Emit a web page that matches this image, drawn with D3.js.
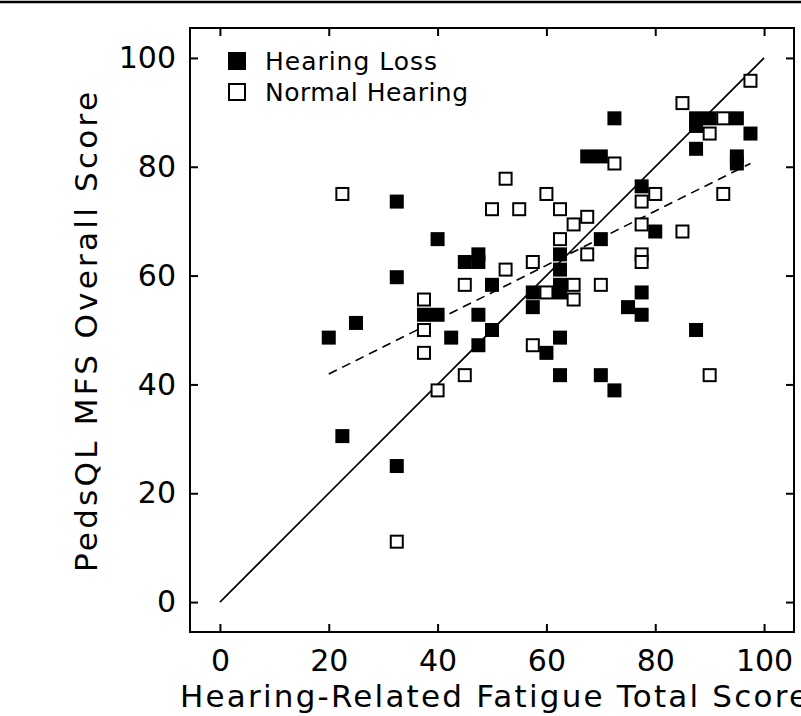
<!DOCTYPE html>
<html>
<head>
<meta charset="utf-8">
<script src="https://cdn.jsdelivr.net/npm/d3@7"></script>
<style>
  body { margin: 0; background: #fff; }
  svg text { font-family: "DejaVu Sans", sans-serif; fill: #000; }
</style>
</head>
<body>
<div id="chart"></div>
<script>
var width = 801, height = 716
var margin = {top: 28, right: 7, bottom: 84, left: 190}

// Hearing Loss group (filled squares)
var lossX = [20, 22.5, 25, 32.5, 32.5, 32.5, 37.5, 40, 40, 42.5, 45, 47.5, 47.5, 47.5, 47.5, 50, 50,
  57.5, 57.5, 60, 62.5, 62.5, 62.5, 62.5, 62.5, 62.5, 67.5, 70, 70, 70, 72.5, 72.5, 75,
  77.5, 77.5, 77.5, 80, 87.5, 87.5, 87.5, 87.5, 90, 95, 95, 95, 97.5]
var lossY = [48.6, 30.5, 51.3, 73.6, 59.7, 25, 52.8, 52.8, 66.7, 48.6, 62.5, 63.9, 62.5, 52.8, 47.2, 58.3, 50,
  56.9, 54.2, 45.8, 63.9, 61.1, 58.3, 56.9, 48.6, 41.7, 81.9, 81.9, 66.7, 41.7, 88.9, 38.9, 54.2,
  76.4, 56.9, 52.8, 68.1, 88.9, 87.5, 83.3, 50, 88.9, 88.9, 81.9, 80.6, 86.1]

// Normal Hearing group (open squares)
var normX = [22.5, 32.5, 37.5, 37.5, 37.5, 40, 45, 45, 50, 52.5, 52.5, 55, 57.5, 57.5, 60, 60,
  62.5, 62.5, 65, 65, 65, 67.5, 67.5, 70, 72.5, 77.5, 77.5, 77.5, 77.5, 80, 85, 85,
  90, 90, 92.5, 92.5, 97.5]
var normY = [75, 11.1, 55.6, 50, 45.8, 38.9, 58.3, 41.7, 72.2, 77.8, 61.1, 72.2, 62.5, 47.2, 75, 56.9,
  72.2, 66.7, 69.4, 58.3, 55.6, 70.8, 63.9, 58.3, 80.6, 73.6, 69.4, 63.9, 62.5, 75, 91.7, 68.1,
  86.1, 41.7, 88.9, 75, 95.8]

// identity line and regression line
var identX = [0, 100], identY = [0, 100]
var fitX = [20, 97.5], fitY = [41.9, 80.6]

var ticks = [0, 20, 40, 60, 80, 100]
var legendLabels = ['Hearing Loss', 'Normal Hearing']

var svg = d3.select('#chart')
  .append('svg')
  .attr('width', width)
  .attr('height', height)

// rule at the very top
svg.append('line')
  .attr('x1', 0).attr('x2', width)
  .attr('y1', 2).attr('y2', 2)
  .attr('stroke', 'black')
  .attr('stroke-width', 2.5)

var xScale = d3.scaleLinear()
  .domain([-5.5, 105.5])
  .range([margin.left, width - margin.right])

var yScale = d3.scaleLinear()
  .domain([-5.5, 105.5])
  .range([height - margin.bottom, margin.top])

// axes, ticks pointing inwards
var xAxis = d3.axisBottom(xScale).tickValues(ticks).tickSize(-8).tickSizeOuter(0).tickPadding(18)
var yAxis = d3.axisLeft(yScale).tickValues(ticks).tickSize(-8).tickSizeOuter(0).tickPadding(14)
var xTop = d3.axisTop(xScale).tickValues(ticks).tickSize(-8).tickSizeOuter(0).tickFormat('')
var yRight = d3.axisRight(yScale).tickValues(ticks).tickSize(-8).tickSizeOuter(0).tickFormat('')

function styleAxis(g) {
  g.select('.domain').remove()
  g.selectAll('line').attr('stroke', 'black').attr('stroke-width', 2)
  g.selectAll('text').attr('font-size', 30).attr('font-family', '"DejaVu Sans", sans-serif')
}

svg.append('g')
  .attr('transform', `translate(0,${height - margin.bottom})`)
  .call(xAxis)
  .call(styleAxis)

svg.append('g')
  .attr('transform', `translate(${margin.left},0)`)
  .call(yAxis)
  .call(styleAxis)

svg.append('g')
  .attr('transform', `translate(0,${margin.top})`)
  .call(xTop)
  .call(styleAxis)

svg.append('g')
  .attr('transform', `translate(${width - margin.right},0)`)
  .call(yRight)
  .call(styleAxis)

// frame
svg.append('rect')
  .attr('x', margin.left)
  .attr('y', margin.top)
  .attr('width', width - margin.right - margin.left)
  .attr('height', height - margin.bottom - margin.top)
  .attr('fill', 'none')
  .attr('stroke', 'black')
  .attr('stroke-width', 2)

var line = d3.line()
  .x(d => xScale(d[0]))
  .y(d => yScale(d[1]))

svg.append('path')
  .datum(d3.zip(identX, identY))
  .attr('d', line)
  .attr('fill', 'none')
  .attr('stroke', 'black')
  .attr('stroke-width', 1.6)

svg.append('path')
  .datum(d3.zip(fitX, fitY))
  .attr('d', line)
  .attr('fill', 'none')
  .attr('stroke', 'black')
  .attr('stroke-width', 1.6)
  .attr('stroke-dasharray', '9,6')

var size = 14

svg.selectAll('rect.norm')
  .data(d3.zip(normX, normY))
  .enter()
  .append('rect')
  .attr('class', 'norm')
  .attr('x', d => xScale(d[0]) - size / 2 + 1)
  .attr('y', d => yScale(d[1]) - size / 2 + 1)
  .attr('width', size - 2)
  .attr('height', size - 2)
  .attr('fill', 'white')
  .attr('stroke', 'black')
  .attr('stroke-width', 2)

svg.selectAll('rect.loss')
  .data(d3.zip(lossX, lossY))
  .enter()
  .append('rect')
  .attr('class', 'loss')
  .attr('x', d => xScale(d[0]) - size / 2)
  .attr('y', d => yScale(d[1]) - size / 2)
  .attr('width', size)
  .attr('height', size)
  .attr('fill', 'black')

// legend
var legend = svg.append('g')
  .attr('transform', 'translate(228,52)')

legend.selectAll('rect')
  .data(legendLabels)
  .enter()
  .append('rect')
  .attr('x', (d, i) => i === 0 ? 0 : 1)
  .attr('y', (d, i) => i * 31 + (i === 0 ? 0 : 1))
  .attr('width', (d, i) => i === 0 ? 18 : 16)
  .attr('height', (d, i) => i === 0 ? 18 : 16)
  .attr('fill', (d, i) => i === 0 ? 'black' : 'white')
  .attr('stroke', (d, i) => i === 0 ? 'none' : 'black')
  .attr('stroke-width', 2)

legend.selectAll('text')
  .data(legendLabels)
  .enter()
  .append('text')
  .attr('x', 37)
  .attr('y', (d, i) => 18 + i * 31)
  .attr('font-size', 25)
  .attr('textLength', (d, i) => i === 0 ? 172 : 203)
  .attr('lengthAdjust', 'spacing')
  .text(d => d)

// axis titles
svg.append('text')
  .attr('x', 180)
  .attr('y', 707)
  .attr('font-size', 31)
  .attr('textLength', 628)
  .attr('lengthAdjust', 'spacing')
  .text('Hearing-Related Fatigue Total Score')

svg.append('text')
  .attr('transform', `translate(97,572) rotate(-90)`)
  .attr('font-size', 31)
  .attr('textLength', 480)
  .attr('lengthAdjust', 'spacing')
  .text('PedsQL MFS Overall Score')
</script>
</body>
</html>
